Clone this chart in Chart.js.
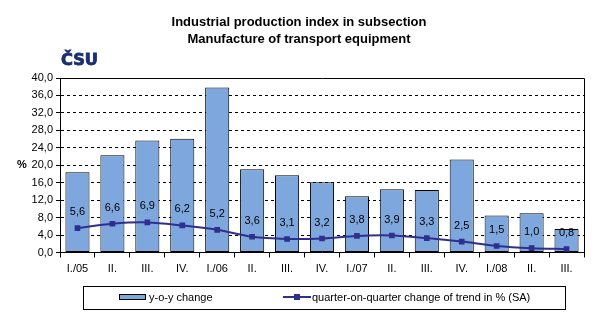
<!DOCTYPE html>
<html>
<head>
<meta charset="utf-8">
<script src="https://cdn.jsdelivr.net/npm/chart.js@4.4.1/dist/chart.umd.min.js"></script>
<style>
  html, body { margin: 0; padding: 0; background: #ffffff; }
  #wrap { width: 599px; height: 321px; position: relative; }
</style>
</head>
<body>
<div id="wrap"><canvas id="c" width="599" height="321"></canvas></div>
<script>
// Quarters
const categories = ['I./05', 'II.', 'III.', 'IV.', 'I./06', 'II.', 'III.', 'IV.',
                    'I./07', 'II.', 'III.', 'IV.', 'I./08', 'II.', 'III.'];
// Year-on-year change, %
const yoyChange = [18.4, 22.3, 25.7, 26.1, 37.8, 19.1, 17.7, 16.1,
                   12.9, 14.5, 14.3, 21.3, 8.5, 9.0, 5.4];
// Quarter-on-quarter change of trend, % (seasonally adjusted)
const qoqTrend = [5.6, 6.6, 6.9, 6.2, 5.2, 3.6, 3.1, 3.2,
                  3.8, 3.9, 3.3, 2.5, 1.5, 1.0, 0.8];
// Y axis
const yMin = 0, yMax = 40, yStep = 4;

const titleLines = ['Industrial production index in subsection', 'Manufacture of transport equipment'];
const logoText = 'ČSU';
const axisUnit = '%';

const FONT = '"Liberation Sans", Arial, sans-serif';
const BAR_FILL = '#7ea7dd';
const LINE_COL = '#2e2f8f';

const fmt = v => v.toFixed(1).replace('.', ',');

const decor = {
  id: 'decor',
  afterDatasetsDraw(chart) {
    const ctx = chart.ctx;
    const a = chart.chartArea;
    ctx.save();
    // plot frame (top and right edges)
    ctx.strokeStyle = '#000';
    ctx.lineWidth = 1;
    ctx.beginPath();
    ctx.moveTo(Math.round(a.left) + 0.5, Math.round(a.top) + 0.5);
    ctx.lineTo(Math.round(a.right) + 0.5, Math.round(a.top) + 0.5);
    ctx.lineTo(Math.round(a.right) + 0.5, Math.round(a.bottom) + 0.5);
    ctx.stroke();

    // value labels above the trend line
    const meta = chart.getDatasetMeta(1);
    ctx.fillStyle = '#000';
    ctx.font = '11px ' + FONT;
    ctx.textAlign = 'center';
    ctx.textBaseline = 'middle';
    meta.data.forEach((pt, i) => {
      ctx.fillText(fmt(chart.data.datasets[1].data[i]), pt.x, pt.y - 16);
    });
    ctx.restore();
  },
  afterDraw(chart) {
    const ctx = chart.ctx;
    ctx.save();
    // title
    ctx.fillStyle = '#000';
    ctx.font = 'bold 13px ' + FONT;
    ctx.textAlign = 'center';
    ctx.textBaseline = 'middle';
    ctx.fillText(titleLines[0], 299, 22);
    ctx.fillText(titleLines[1], 299, 39);

    // logo
    ctx.fillStyle = '#1b2e6e';
    ctx.strokeStyle = '#1b2e6e';
    ctx.lineWidth = 0.8;
    ctx.font = 'bold 15px "DejaVu Sans", ' + FONT;
    ctx.textAlign = 'left';
    ctx.textBaseline = 'alphabetic';
    const w = ctx.measureText(logoText).width;
    ctx.translate(61, 65);
    ctx.scale(37 / w, 1);
    ctx.fillText(logoText, 0, 0);
    ctx.strokeText(logoText, 0, 0);
    ctx.setTransform(1, 0, 0, 1, 0, 0);

    // axis unit
    ctx.fillStyle = '#000';
    ctx.font = 'bold 11px ' + FONT;
    ctx.textAlign = 'center';
    ctx.textBaseline = 'middle';
    ctx.fillText(axisUnit, 22, 165);

    // legend
    const ds = chart.data.datasets;
    ctx.strokeStyle = '#000';
    ctx.lineWidth = 1;
    ctx.strokeRect(83.5, 286.5, 482, 23);
    ctx.fillStyle = BAR_FILL;
    ctx.fillRect(119.5, 294.5, 26, 5);
    ctx.strokeRect(119.5, 294.5, 26, 5);
    ctx.fillStyle = '#000';
    ctx.font = '11px ' + FONT;
    ctx.textAlign = 'left';
    ctx.textBaseline = 'middle';
    ctx.fillText(ds[0].label, 149, 297.5);

    ctx.strokeStyle = LINE_COL;
    ctx.lineWidth = 2;
    ctx.beginPath();
    ctx.moveTo(283, 297);
    ctx.lineTo(311, 297);
    ctx.stroke();
    ctx.fillStyle = LINE_COL;
    ctx.fillRect(294, 294, 6, 6);
    ctx.fillStyle = '#000';
    ctx.fillText(ds[1].label, 312, 297.5);
    ctx.restore();
  }
};

new Chart(document.getElementById('c'), {
  type: 'bar',
  data: {
    labels: categories,
    datasets: [
      {
        type: 'bar',
        label: 'y-o-y change',
        data: yoyChange,
        backgroundColor: BAR_FILL,
        borderColor: '#000',
        borderWidth: 1,
        borderSkipped: false,
        categoryPercentage: 1.0,
        barPercentage: 0.69,
        order: 2
      },
      {
        type: 'line',
        label: 'quarter-on-quarter change of trend in % (SA)',
        data: qoqTrend,
        borderColor: LINE_COL,
        borderWidth: 2,
        backgroundColor: LINE_COL,
        pointStyle: 'rect',
        pointRadius: 4,
        pointBackgroundColor: LINE_COL,
        pointBorderColor: LINE_COL,
        pointBorderWidth: 0,
        tension: 0.35,
        fill: false,
        order: 1
      }
    ]
  },
  options: {
    responsive: false,
    animation: false,
    events: [],
    layout: { padding: { top: 78, right: 15, bottom: 0, left: 0 } },
    plugins: {
      legend: { display: false },
      title: { display: false },
      tooltip: { enabled: false }
    },
    scales: {
      x: {
        offset: true,
        grid: {
          offset: true,
          drawOnChartArea: false,
          drawTicks: true,
          tickLength: 5,
          tickColor: '#000'
        },
        border: { color: '#000', width: 1 },
        ticks: {
          color: '#000',
          font: { family: FONT, size: 11 },
          maxRotation: 0,
          autoSkip: false,
          padding: 5
        },
        afterFit(s) { s.height = 68.5; }
      },
      y: {
        min: yMin,
        max: yMax,
        grid: {
          color: '#000',
          lineWidth: 1,
          drawTicks: true,
          tickLength: 4,
          tickColor: '#000',
          tickBorderDash: []
        },
        border: { color: '#000', width: 1, dash: [3, 3] },
        ticks: {
          stepSize: yStep,
          color: '#000',
          font: { family: FONT, size: 11 },
          padding: 3,
          callback: v => fmt(v)
        },
        afterFit(s) { s.width = 60; }
      }
    }
  },
  plugins: [decor]
});
</script>
</body>
</html>
